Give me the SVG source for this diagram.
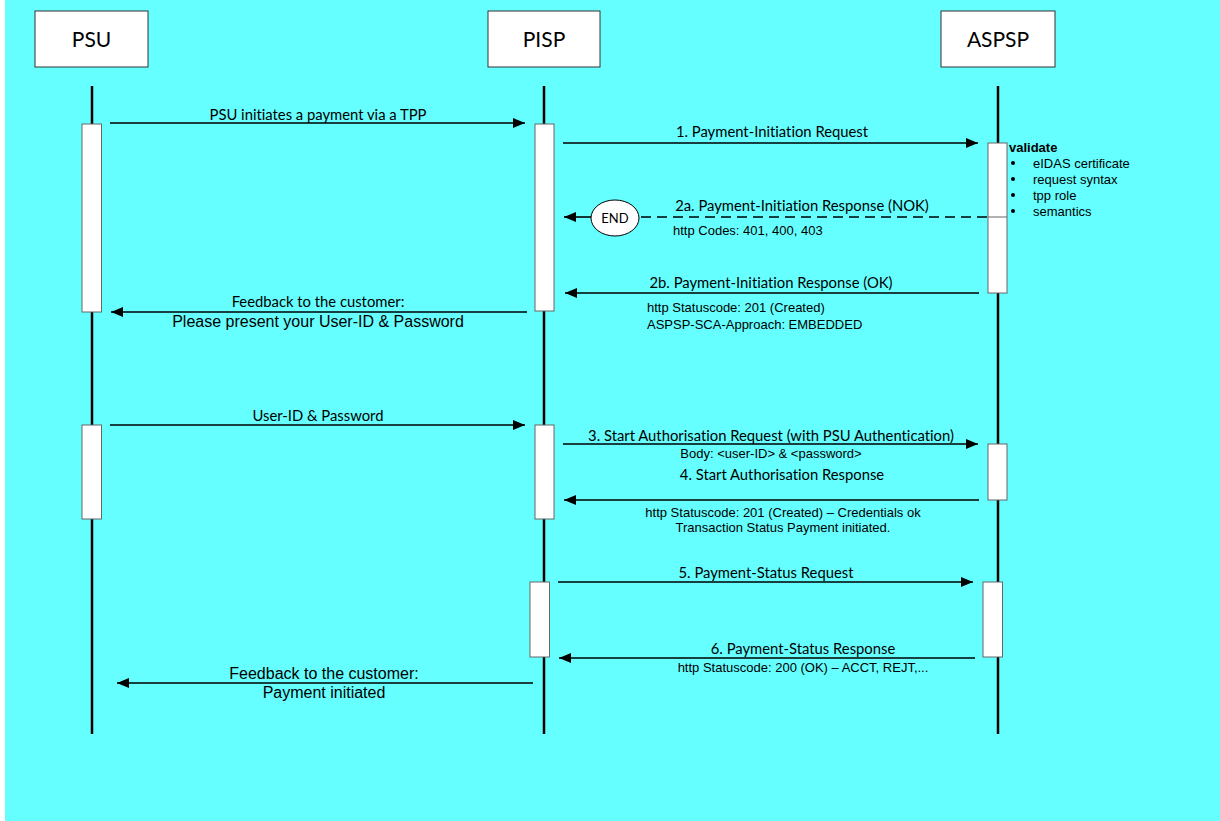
<svg xmlns="http://www.w3.org/2000/svg" width="1220" height="821" viewBox="0 0 1220 821">
<defs>
<style>
.bg{fill:#66FFFF}
.hdr{fill:#fff;stroke:#333;stroke-width:1}
.act{fill:#fff;stroke:#666;stroke-width:1}
.life{stroke:#000;stroke-width:2.5}
.msg{stroke:#000;stroke-width:1.6;fill:none}
.dash{stroke:#000;stroke-width:1.6;fill:none;stroke-dasharray:10,6}
.c{font-family:Lato,"Open Sans",sans-serif;fill:#000;font-variant-ligatures:none}
.a{font-family:"Liberation Sans",Arial,sans-serif;fill:#000}
.m{text-anchor:middle}
</style>
<marker id="ah" viewBox="0 0 12 10" refX="12" refY="5" markerWidth="12" markerHeight="10" markerUnits="userSpaceOnUse" orient="auto">
<path d="M0,0 L12,5 L0,10 Z" fill="#000"/>
</marker>
</defs>
<rect x="0" y="0" width="1220" height="821" fill="#fff"/>
<rect class="bg" x="5" y="0" width="1215" height="821"/>

<g id="lifelines">
<line class="life" x1="92" y1="86" x2="92" y2="734"/>
<line class="life" x1="544" y1="86" x2="544" y2="734"/>
<line class="life" x1="998" y1="86" x2="998" y2="734"/>
</g>

<g id="PSU">
<rect class="hdr" x="35" y="11" width="113" height="56"/>
<text class="c m" x="91.5" y="47" font-size="21">PSU</text>
</g>
<g id="PISP">
<rect class="hdr" x="488" y="11" width="112" height="56"/>
<text class="c m" x="544" y="47" font-size="21">PISP</text>
</g>
<g id="ASPSP">
<rect class="hdr" x="941" y="11" width="114" height="56"/>
<text class="c m" x="998" y="47" font-size="21">ASPSP</text>
</g>

<g id="activations">
<rect class="act" x="82" y="124" width="19.5" height="188"/>
<rect class="act" x="535" y="124" width="19" height="187"/>
<rect class="act" x="988" y="143" width="19" height="150"/>
<line stroke="#666" stroke-width="1" x1="988" y1="217" x2="1007" y2="217"/>
<rect class="act" x="82" y="425" width="19.5" height="94"/>
<rect class="act" x="535" y="425" width="19" height="94"/>
<rect class="act" x="988" y="444" width="19" height="56"/>
<rect class="act" x="530" y="582" width="19.5" height="75"/>
<rect class="act" x="983" y="582" width="19.5" height="75"/>
</g>

<g id="END">
<ellipse cx="615" cy="218" rx="24" ry="18" fill="#fff" stroke="#000" stroke-width="1"/>
<text class="c m" x="615" y="223" font-size="13">END</text>
</g>

<g id="validate">
<text class="a" x="1009" y="152" font-size="13" font-weight="bold">validate</text>
<g class="a" font-size="13">
<circle cx="1013" cy="163" r="2"/><text x="1033" y="167.5">eIDAS certificate</text>
<circle cx="1013" cy="179" r="2"/><text x="1033" y="183.5">request syntax</text>
<circle cx="1013" cy="195" r="2"/><text x="1033" y="199.5">tpp role</text>
<circle cx="1013" cy="211" r="2"/><text x="1033" y="215.5">semantics</text>
</g>
</g>

<g id="connectors">
<line class="msg" x1="110" y1="123" x2="525" y2="123" marker-end="url(#ah)"/>
<line class="msg" x1="563" y1="143" x2="978" y2="143" marker-end="url(#ah)"/>
<line class="dash" x1="987" y1="217" x2="640" y2="217"/>
<line class="msg" x1="591" y1="217" x2="564" y2="217" marker-end="url(#ah)"/>
<line class="msg" x1="979" y1="293" x2="565" y2="293" marker-end="url(#ah)"/>
<line class="msg" x1="527" y1="312" x2="111" y2="312" marker-end="url(#ah)"/>
<line class="msg" x1="110" y1="425" x2="525" y2="425" marker-end="url(#ah)"/>
<line class="msg" x1="563" y1="444" x2="978" y2="444" marker-end="url(#ah)"/>
<line class="msg" x1="979" y1="500" x2="564" y2="500" marker-end="url(#ah)"/>
<line class="msg" x1="558" y1="582" x2="973" y2="582" marker-end="url(#ah)"/>
<line class="msg" x1="975" y1="658" x2="559" y2="658" marker-end="url(#ah)"/>
<line class="msg" x1="533" y1="683" x2="117" y2="683" marker-end="url(#ah)"/>
</g>

<g id="labels">
<text class="c m" x="318" y="120" font-size="14.8">PSU initiates a payment via a TPP</text>
<text class="c m" x="772" y="137" font-size="14.8">1. Payment-Initiation Request</text>
<text class="c m" x="802" y="211" font-size="14.8">2a. Payment-Initiation Response (NOK)</text>
<text class="a" x="673" y="235" font-size="13">http Codes: 401, 400, 403</text>
<text class="c m" x="771" y="288" font-size="14.8">2b. Payment-Initiation Response (OK)</text>
<text class="a" x="647" y="311.5" font-size="13">http Statuscode: 201 (Created)</text>
<text class="a" x="647" y="328.5" font-size="13">ASPSP-SCA-Approach: EMBEDDED</text>
<text class="c m" x="318" y="307" font-size="14.8">Feedback to the customer:</text>
<text class="a m" x="318" y="327" font-size="16">Please present your User-ID &amp; Password</text>
<text class="c m" x="318" y="421" font-size="14.8">User-ID &amp; Password</text>
<text class="c m" x="771" y="441" font-size="14.8">3. Start Authorisation Request (with PSU Authentication)</text>
<text class="a m" x="771" y="457.5" font-size="13">Body: &lt;user-ID&gt; &amp; &lt;password&gt;</text>
<text class="c m" x="782" y="480" font-size="14.8">4. Start Authorisation Response</text>
<text class="a m" x="783" y="516.5" font-size="13">http Statuscode: 201 (Created) – Credentials ok</text>
<text class="a m" x="783" y="531.5" font-size="13">Transaction Status Payment initiated.</text>
<text class="c m" x="766" y="578" font-size="14.8">5. Payment-Status Request</text>
<text class="c m" x="803" y="654" font-size="14.8">6. Payment-Status Response</text>
<text class="a m" x="803" y="671.5" font-size="13">http Statuscode: 200 (OK) – ACCT, REJT,...</text>
<text class="a m" x="324" y="678.5" font-size="16">Feedback to the customer:</text>
<text class="a m" x="324" y="697.5" font-size="16">Payment initiated</text>
</g>
</svg>
